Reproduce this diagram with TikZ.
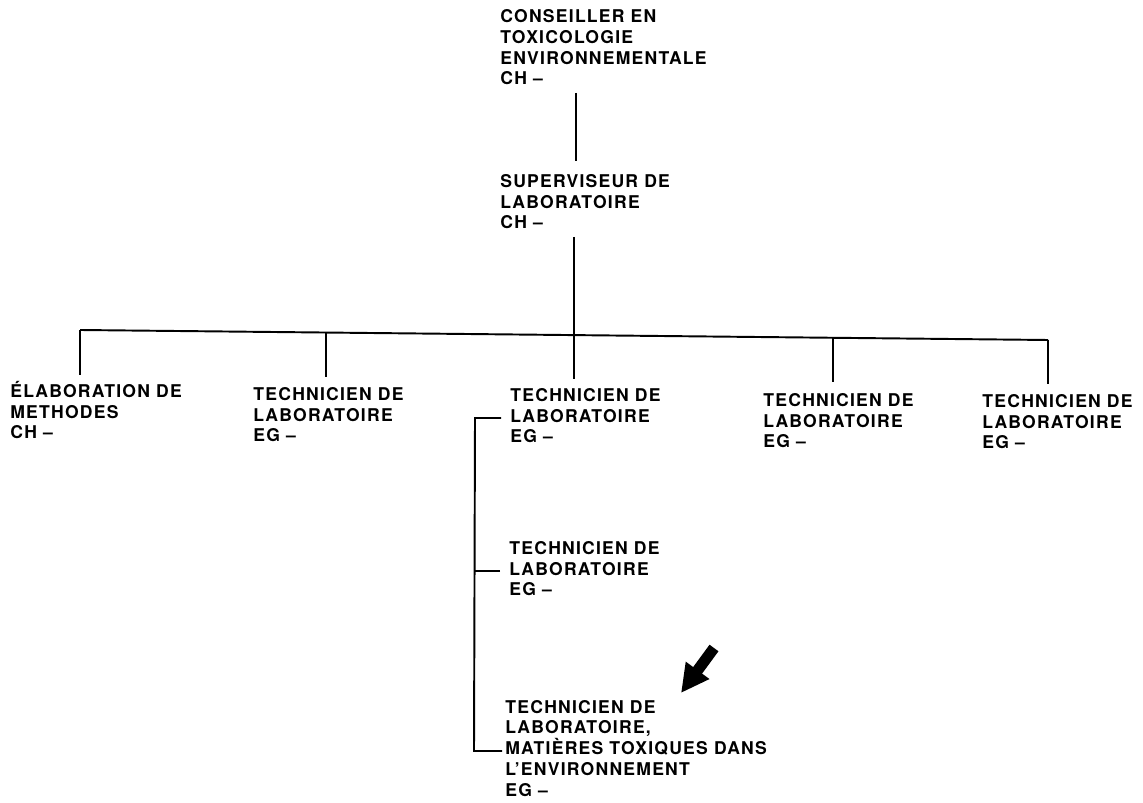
\documentclass[tikz,border=0pt]{standalone}
\usepackage{fontspec}
\setmainfont{TeX Gyre Heros}[LetterSpace=7]
\usetikzlibrary{arrows.meta}

\tikzset{
    post/.style={anchor=base west, inner sep=0pt, align=left,
        font=\bfseries\fontsize{10}{11.8}\selectfont},
    link/.style={line width=1.1pt}
}

\begin{document}
\begin{tikzpicture}[x=0.02cm, y=-0.02cm]
    \useasboundingbox (0,0) rectangle (1143,803);
    % Head and supervisor (placed at the baseline of the last line)
    \node[post] (conseiller) at (500,85) {CONSEILLER EN\\TOXICOLOGIE\\ENVIRONNEMENTALE\\CH –};
    \node[post] (superviseur) at (500,229) {SUPERVISEUR DE\\LABORATOIRE\\CH –};
    % Lower row
    \node[post] (elab) at (10,439) {ÉLABORATION DE\\METHODES\\CH –};
    \node[post] (tech1) at (253,442) {TECHNICIEN DE\\LABORATOIRE\\EG –};
    \node[post] (tech2) at (510,443) {TECHNICIEN DE\\LABORATOIRE\\EG –};
    \node[post] (tech3) at (763,448) {TECHNICIEN DE\\LABORATOIRE\\EG –};
    \node[post] (tech4) at (982,449) {TECHNICIEN DE\\LABORATOIRE\\EG –};
    % Under the middle technician
    \node[post] (tech5) at (509,596) {TECHNICIEN DE\\LABORATOIRE\\EG –};
    \node[post] (toxique) at (505,796) {TECHNICIEN DE\\LABORATOIRE,\\MATIÈRES TOXIQUES DANS\\L’ENVIRONNEMENT\\EG –};

    % Trunk
    \coordinate (c1) at (576,93);
    \coordinate (c2) at (576,161);
    \coordinate (s1) at (574,237);
    \draw[link] (c1) -- (c2);
    % Bus and drops
    \coordinate (b1) at (80,330);
    \coordinate (b5) at (1048,340);
    \draw[link] (b1) -- (b5);
    \foreach \n/\x/\yb/\ye in {1/80/330/375, 2/326/332.5/377, 3/574/335.1/379,
                               4/833/337.8/382, 5/1048/340/384}{
        \coordinate (d\n) at (\x,\yb);
        \coordinate (e\n) at (\x,\ye);
        \draw[link] (d\n) -- (e\n);
    }
    \draw[link] (s1) -- (d3);
    % Sub branch
    \coordinate (k1) at (501,418);
    \coordinate (k2) at (500,571);
    \coordinate (k3) at (502,751);
    \draw[link] (k1) -- (475,418) -- (474,751) -- (k3);
    \draw[link] (k2) -- (474.5,571);

    % Pointer
    \coordinate (arrowtail) at (714,648);
    \coordinate (arrowtip) at (681,693);
    \draw[line width=6.3pt, -{Triangle[length=16pt, width=15.5pt]}] (arrowtail) -- (arrowtip);
\end{tikzpicture}
\end{document}
